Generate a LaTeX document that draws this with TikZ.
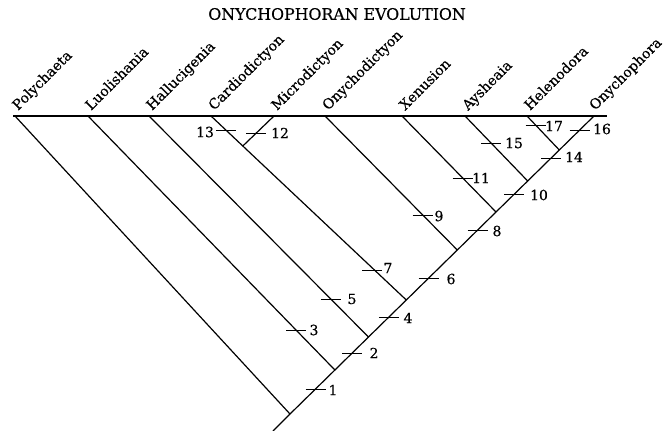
\documentclass[tikz,border=0pt]{standalone}
\usepackage{fontspec}
\setmainfont{DejaVu Serif}
\newfontfamily\heavyserif{DejaVu Serif}[FakeBold=0.4]
\begin{document}
\begin{tikzpicture}[x=1pt,y=-1pt,
  branch/.style={line width=1.2pt},
  tickmark/.style={line width=0.9pt},
  leaf/.style={rotate=45, anchor=base west, inner sep=0pt, font=\heavyserif\fontsize{14}{14}\selectfont},
  num/.style={inner sep=0pt, font=\heavyserif\fontsize{14}{14}\selectfont},
  ttl/.style={inner sep=0pt, font=\heavyserif\fontsize{15.8}{15.8}\selectfont}]
\useasboundingbox (0,0) rectangle (664,431);
% title
\node[ttl] (title) at (337,14) {ONYCHOPHORAN EVOLUTION};
% top line ends
\coordinate (Lend) at (13,116);
\coordinate (Rend) at (607,116);
% leaves
\coordinate (P)  at (15,116);
\coordinate (Lu) at (88,116);
\coordinate (Ha) at (149,116);
\coordinate (Ca) at (211,116);
\coordinate (Mi) at (274,116);
\coordinate (On) at (325,116);
\coordinate (Xe) at (402,116);
\coordinate (Ay) at (465,116);
\coordinate (He) at (527,116);
\coordinate (Oy) at (594,116);
% internal nodes
\coordinate (base) at (273,431);
\coordinate (n1) at (290,414);
\coordinate (n2) at (334.9,370);
\coordinate (n3) at (368.5,337);
\coordinate (n4) at (406.3,300);
\coordinate (n5) at (457.3,250);
\coordinate (n6) at (496,212);
\coordinate (n7) at (527.7,181);
\coordinate (n8) at (559.3,150);
\coordinate (nCM) at (242.8,146);
% lines
\draw[branch] (Lend) -- (Rend);
\draw[branch] (base) -- (n1) -- (n2) -- (n3) -- (n4) -- (n5) -- (n6) -- (n7) -- (n8) -- (Oy);
\draw[branch] (P) -- (n1);
\draw[branch] (Lu) -- (n2);
\draw[branch] (Ha) -- (n3);
\draw[branch] (Ca) -- (nCM) -- (n4);
\draw[branch] (Mi) -- (nCM);
\draw[branch] (On) -- (n5);
\draw[branch] (Xe) -- (n6);
\draw[branch] (Ay) -- (n7);
\draw[branch] (He) -- (n8);
% leaf labels
\node[leaf] (lP)  at (18,111)  {Polychaeta};
\node[leaf] (lLu) at (91,111)  {Luolishania};
\node[leaf] (lHa) at (152,111) {Hallucigenia};
\node[leaf] (lCa) at (214,111) {Cardiodictyon};
\node[leaf] (lMi) at (277,111) {Microdictyon};
\node[leaf] (lOn) at (328,111) {Onychodictyon};
\node[leaf] (lXe) at (405,111) {Xenusion};
\node[leaf] (lAy) at (468,111) {Aysheaia};
\node[leaf] (lHe) at (530,111) {Helenodora};
\node[leaf] (lOy) at (595,111) {Onychophora};
% character ticks and numbers
\foreach \tx/\ty/\lx/\ly/\t in {
  315.5/389/333/390/1, 352.2/353/374/353/2, 296/330/314/330/3,
  388.9/317/408/318/4, 330.8/299/352/299/5, 428.7/278/451/279/6,
  372/270/388/268/7, 477.7/230/497/231/8, 422.7/215/439/216/9,
  514.4/194/539/195/10, 462.7/178/481/178/11, 256.3/133/280/133/12,
  225.9/130/205/132/13, 551.1/158/574/157/14, 491/143/514/143/15,
  579.7/130/602/129/16, 535.5/125/554/126/17}
{
  \draw[tickmark] (\tx-10,\ty) coordinate (ta\t) -- (\tx+10,\ty) coordinate (tb\t);
  \node[num] (c\t) at (\lx,\ly) {\t};
}
\end{tikzpicture}
\end{document}
